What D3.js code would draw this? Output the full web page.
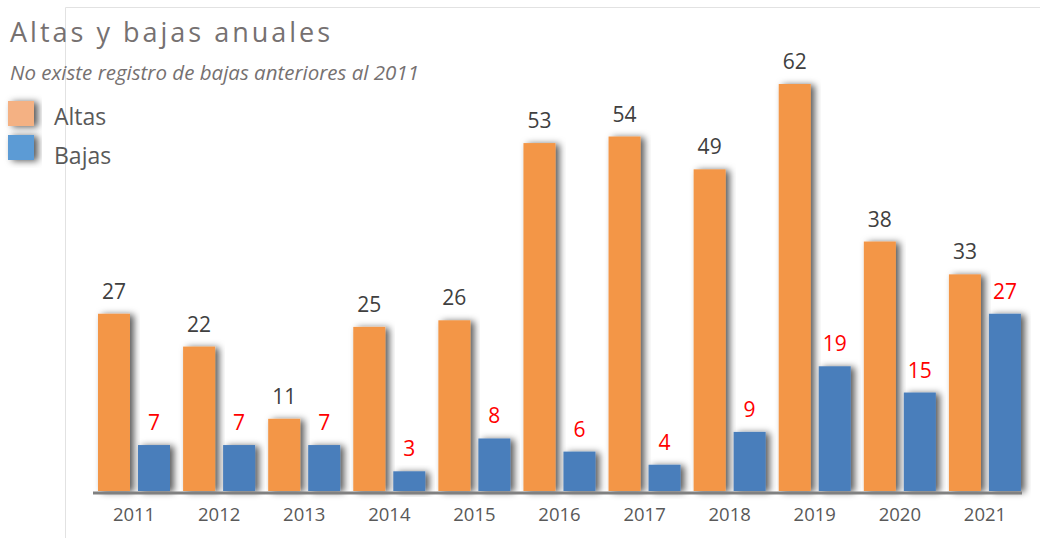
<!DOCTYPE html>
<html>
<head>
<meta charset="utf-8">
<script src="https://cdn.jsdelivr.net/npm/d3@7"></script>
<style>
  body { margin: 0; background: #fff; }
  svg { display: block; font-family: "Open Sans", "Noto Sans", sans-serif; }
</style>
</head>
<body>
<script>
const w = 1040;
const h = 538;

const years = ["2011", "2012", "2013", "2014", "2015", "2016", "2017", "2018", "2019", "2020", "2021"];
const altas = [27, 22, 11, 25, 26, 53, 54, 49, 62, 38, 33];
const bajas = [7, 7, 7, 3, 8, 6, 4, 9, 19, 15, 27];
const seriesNames = ["Altas", "Bajas"];

const colorAltas = "#f39646";
const colorBajas = "#4a7ebb";
const legendColors = ["#f4b183", "#5b9bd5"];

const svg = d3.select("body")
    .append("svg")
    .attr("width", w)
    .attr("height", h);

// soft shadow like the office chart
const defs = svg.append("defs");
const shadow = defs.append("filter")
    .attr("id", "shadow")
    .attr("x", "-30%").attr("y", "-30%")
    .attr("width", "160%").attr("height", "160%");
shadow.append("feDropShadow")
    .attr("dx", 4).attr("dy", 1)
    .attr("stdDeviation", 3.5)
    .attr("flood-color", "#000")
    .attr("flood-opacity", 0.65);

// plot area frame
svg.append("path")
    .attr("d", "M65.5," + h + "V7.5H" + w)
    .attr("fill", "none")
    .attr("stroke", "#e2e2e2")
    .attr("stroke-width", 1);

const xScale = d3.scaleBand()
    .domain(years)
    .range([91.5, 1027.5])
    .padding(0);

const xInner = d3.scaleBand()
    .domain(seriesNames)
    .range([6.5, 78.5])
    .paddingInner(0.2);

const yScale = d3.scaleLinear()
    .domain([0, 62])
    .range([491, 84]);

const data = years.map((y, i) => ({ year: y, altas: altas[i], bajas: bajas[i] }));

const groups = svg.selectAll("g.group")
    .data(data)
    .enter()
    .append("g")
    .attr("class", "group")
    .attr("transform", d => "translate(" + xScale(d.year) + ",0)");

groups.append("rect")
    .attr("x", xInner("Altas"))
    .attr("y", d => yScale(d.altas))
    .attr("width", xInner.bandwidth())
    .attr("height", d => yScale(0) - yScale(d.altas))
    .attr("fill", colorAltas)
    .attr("filter", "url(#shadow)");

groups.append("rect")
    .attr("x", xInner("Bajas"))
    .attr("y", d => yScale(d.bajas))
    .attr("width", xInner.bandwidth())
    .attr("height", d => yScale(0) - yScale(d.bajas))
    .attr("fill", colorBajas)
    .attr("filter", "url(#shadow)");

groups.append("text")
    .attr("x", xInner("Altas") + xInner.bandwidth() / 2)
    .attr("y", d => yScale(d.altas) - 15)
    .attr("text-anchor", "middle")
    .attr("font-size", 21)
    .attr("fill", "#404040")
    .text(d => d.altas);

groups.append("text")
    .attr("x", xInner("Bajas") + xInner.bandwidth() / 2)
    .attr("y", d => yScale(d.bajas) - 15)
    .attr("text-anchor", "middle")
    .attr("font-size", 21)
    .attr("fill", "#ff0000")
    .text(d => d.bajas);

// x axis
const xAxis = d3.axisBottom(xScale).tickSize(0).tickPadding(15);
const gx = svg.append("g")
    .attr("transform", "translate(0,493)")
    .call(xAxis);
gx.select(".domain")
    .attr("d", "M93,0H1022")
    .attr("stroke", "#808080")
    .attr("stroke-width", 3);
gx.selectAll("text")
    .attr("font-size", 18.5)
    .attr("font-family", "\"Open Sans\", sans-serif")
    .attr("fill", "#595959");

// title
svg.append("text")
    .attr("x", 10)
    .attr("y", 42)
    .attr("font-size", 27)
    .attr("letter-spacing", 3)
    .attr("fill", "#767171")
    .text("Altas y bajas anuales");

svg.append("text")
    .attr("x", 10)
    .attr("y", 80)
    .attr("font-size", 20.5)
    .attr("font-style", "italic")
    .attr("fill", "#767171")
    .text("No existe registro de bajas anteriores al 2011");

// legend
const legend = svg.selectAll("g.legend")
    .data(seriesNames)
    .enter()
    .append("g")
    .attr("class", "legend");

legend.append("rect")
    .attr("x", 8)
    .attr("y", (d, i) => 101 + i * 34)
    .attr("width", 26)
    .attr("height", 25)
    .attr("fill", (d, i) => legendColors[i])
    .attr("filter", "url(#shadow)");

legend.append("text")
    .attr("x", 54)
    .attr("y", (d, i) => 125 + i * 39)
    .attr("font-size", 23)
    .attr("fill", "#595959")
    .text(d => d);
</script>
</body>
</html>
